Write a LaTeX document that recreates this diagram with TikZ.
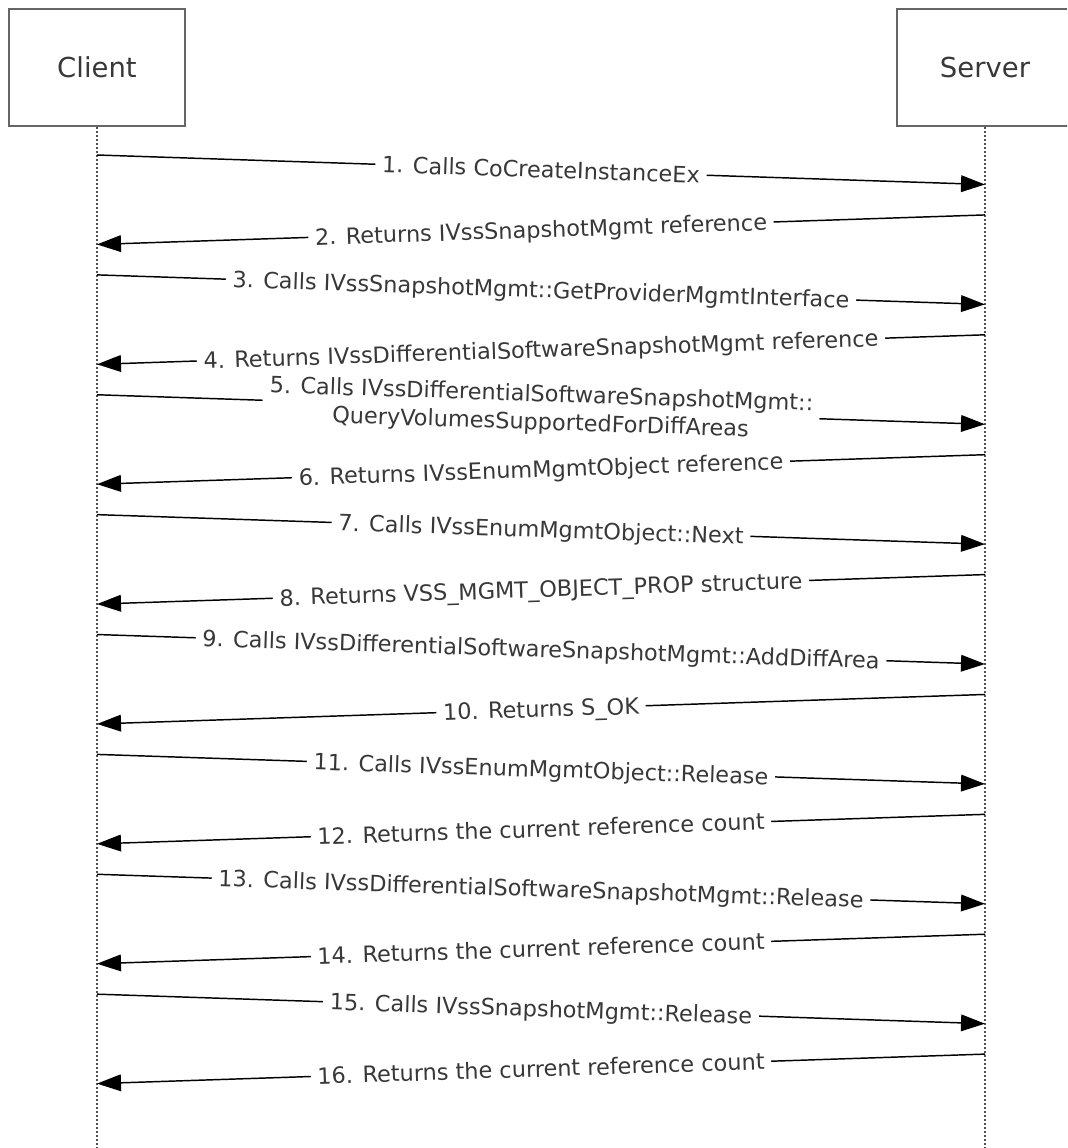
\documentclass[tikz,border=0pt]{standalone}
\usepackage{fontspec}
\setmainfont{DejaVu Sans}
\usetikzlibrary{arrows.meta}
\definecolor{boxgray}{HTML}{666666}
\definecolor{lifegray}{HTML}{505050}
\definecolor{txtgray}{HTML}{383838}
\begin{document}
\begin{tikzpicture}[x=0.75pt,y=-0.75pt,
  actor/.style={draw=boxgray, line width=1.6pt, minimum width=132pt, minimum height=87.75pt,
    inner sep=0pt, text=txtgray, font=\fontsize{20.6}{24}\selectfont},
  lifeline/.style={draw=lifegray, line width=1.8pt, dash pattern=on 1.5pt off 1.5pt},
  msg/.style={draw=black, line width=1.1pt, -{Triangle[length=18pt,width=12.5pt]}},
  lbl/.style={midway, sloped, fill=white, inner xsep=5pt, inner ysep=1pt, text=txtgray,
    font=\fontsize{16.8}{19.5}\selectfont, text height=15pt, text depth=3pt},
  lbltwo/.style={midway, sloped, fill=white, inner xsep=5pt, inner ysep=1pt, text=txtgray,
    font=\fontsize{16.8}{21}\selectfont, align=center}
]
\useasboundingbox (0,0) rectangle (1067,1148);
\clip (0,0) rectangle (1067,1148);

\node[actor] (client) at (97,67.5) {Client};
\node[actor] (server) at (985,67.5) {Server};
\coordinate (cbot) at (97,1150);
\coordinate (sbot) at (985,1150);
\draw[lifeline] (client.south) -- (cbot);
\draw[lifeline] (server.south) -- (sbot);

% message end points on the lifelines
\foreach \n in {1,...,16}{
  \pgfmathsetmacro{\ya}{155+(\n-1)*59.94}
  \pgfmathsetmacro{\yb}{\ya+29.5}
  \ifodd\n
    \coordinate (c\n) at (97,\ya);
    \coordinate (s\n) at (985,\yb);
  \else
    \coordinate (s\n) at (985,\ya);
    \coordinate (c\n) at (97,\yb);
  \fi
}

\draw[msg] (c1) -- node[lbl] {1. Calls CoCreateInstanceEx} (s1);
\draw[msg] (s2) -- node[lbl] {2. Returns IVssSnapshotMgmt reference} (c2);
\draw[msg] (c3) -- node[lbl] {3. Calls IVssSnapshotMgmt::GetProviderMgmtInterface} (s3);
\draw[msg] (s4) -- node[lbl] {4. Returns IVssDifferentialSoftwareSnapshotMgmt reference} (c4);
\draw[msg] (c5) -- node[lbltwo] {5. Calls IVssDifferentialSoftwareSnapshotMgmt::\\QueryVolumesSupportedForDiffAreas} (s5);
\draw[msg] (s6) -- node[lbl] {6. Returns IVssEnumMgmtObject reference} (c6);
\draw[msg] (c7) -- node[lbl] {7. Calls IVssEnumMgmtObject::Next} (s7);
\draw[msg] (s8) -- node[lbl] {8. Returns VSS\_MGMT\_OBJECT\_PROP structure} (c8);
\draw[msg] (c9) -- node[lbl] {9. Calls IVssDifferentialSoftwareSnapshotMgmt::AddDiffArea} (s9);
\draw[msg] (s10) -- node[lbl] {10. Returns S\_OK} (c10);
\draw[msg] (c11) -- node[lbl] {11. Calls IVssEnumMgmtObject::Release} (s11);
\draw[msg] (s12) -- node[lbl] {12. Returns the current reference count} (c12);
\draw[msg] (c13) -- node[lbl] {13. Calls IVssDifferentialSoftwareSnapshotMgmt::Release} (s13);
\draw[msg] (s14) -- node[lbl] {14. Returns the current reference count} (c14);
\draw[msg] (c15) -- node[lbl] {15. Calls IVssSnapshotMgmt::Release} (s15);
\draw[msg] (s16) -- node[lbl] {16. Returns the current reference count} (c16);
\end{tikzpicture}
\end{document}
